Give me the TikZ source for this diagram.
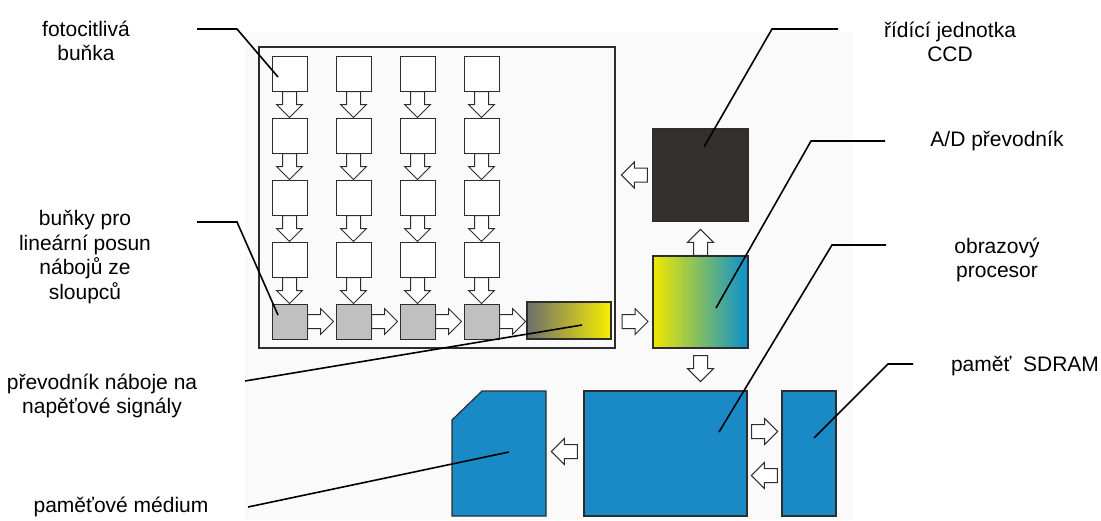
\documentclass[tikz,border=0pt]{standalone}
\usepackage{fontspec}
\setmainfont{Liberation Sans}
\usetikzlibrary{calc}

\definecolor{bgpaper}{RGB}{250,250,250}
\definecolor{boxline}{RGB}{45,45,45}
\definecolor{cellgray}{RGB}{192,192,192}
\definecolor{ccdblack}{RGB}{51,48,46}
\definecolor{memblue}{RGB}{26,138,198}
\definecolor{adcyellow}{RGB}{240,232,0}
\definecolor{adcgreen}{RGB}{96,184,150}
\definecolor{adcblue}{RGB}{10,144,208}
\definecolor{convgray}{RGB}{110,110,110}
\definecolor{convyellow}{RGB}{248,238,0}

\tikzset{
  cell/.style={draw=boxline, line width=1pt, fill=white, minimum size=35pt, inner sep=0pt},
  shiftcell/.style={cell, fill=cellgray},
  unit/.style={draw=boxline, line width=1.2pt, inner sep=0pt},
  memunit/.style={unit, fill=memblue},
  leader/.style={draw=black, line width=1.6pt},
  label/.style={align=center, inner sep=0pt, font=\fontsize{21}{24.5}\selectfont},
  pics/blockarrow/.style={code={
    \draw[draw=boxline, line width=1pt, fill=white]
      (-13,-7) -- (0,-7) -- (0,-13) -- (13,0) -- (0,13) -- (0,7) -- (-13,7) -- cycle;
  }},
}

\begin{document}
\begin{tikzpicture}[x=1pt, y=-1pt]
  \useasboundingbox (0,0) rectangle (1101,520);
  \fill[bgpaper] (245,32) rectangle (853,520);

  % CCD snimac
  \draw[boxline, line width=1.3pt] (259,47) rectangle (615,348);
  \foreach \c in {1,...,4}{
    \foreach \r in {1,...,4}{
      \node[cell] (c\c\r) at ({225.5+64*\c},{11.5+62*\r}) {};
      \pic[rotate=-90] at ($(c\c\r.south)+(0,13)$) {blockarrow};
    }
    \node[shiftcell] (s\c) at ({225.5+64*\c},321.5) {};
    \pic at ($(s\c.east)+(13,0)$) {blockarrow};
  }
  \node[unit, minimum width=84pt, minimum height=37pt,
        left color=convgray, right color=convyellow] (conv) at (569,320.5) {};

  % ridici jednotka a A/D prevodnik
  \node[unit, fill=ccdblack, minimum width=95pt, minimum height=92pt] (ccd) at (700.5,175) {};
  \node[unit, minimum width=95pt, minimum height=92pt,
        left color=adcyellow, middle color=adcgreen, right color=adcblue] (adc) at (700.5,302) {};
  \pic[rotate=180] at ($(ccd.west)+(-18,0)$) {blockarrow};
  \pic[rotate=90] at ($(adc.north)+(0,-13)$) {blockarrow};
  \pic at (635,321.5) {blockarrow};
  \pic[rotate=-90] at ($(adc.south)+(0,20)$) {blockarrow};

  % procesor, pamet, medium
  \node[memunit, minimum width=163pt, minimum height=125pt] (proc) at (665.5,453.5) {};
  \node[memunit, minimum width=54pt, minimum height=125pt] (sdram) at (809,453.5) {};
  \draw[memunit] (452,420) -- (482,391) -- (546,391) -- (546,516) -- (452,516) -- cycle;
  \coordinate (card) at (509,452);
  \pic[rotate=180] at ($(proc.west)+(-19,-2)$) {blockarrow};
  \pic at ($(proc.east)+(17,-22)$) {blockarrow};
  \pic[rotate=180] at ($(sdram.west)+(-17,22)$) {blockarrow};

  % popisky
  \node[label] (lfot) at (86,41) {fotocitlivá\\buňka};
  \node[label] (lposun) at (85,257) {buňky pro\\lineární posun\\nábojů ze\\sloupců};
  \node[label] (lconv) at (102,396) {převodník náboje na\\napěťové signály};
  \node[label] (lmed) at (121,507) {paměťové médium};
  \node[label] (lccd) at (950,42) {řídící jednotka\\CCD};
  \node[label] (ladc) at (997,141) {A/D převodník};
  \node[label] (lproc) at (997,260) {obrazový\\procesor};
  \node[label] (lsdram) at (1025,366) {paměť~~SDRAM};

  \coordinate (kfot) at (237,29);
  \coordinate (kposun) at (237,222);
  \coordinate (kccd) at (772,29);
  \coordinate (kadc) at (811,141);
  \coordinate (kproc) at (832,245);
  \coordinate (ksdram) at (888,364);

  \draw[leader] (197,29) -- (kfot) -- ($(c11)+(-11.5,3.5)$);
  \draw[leader] (197,222) -- (kposun) -- ($(s1)+(-11.5,-6.5)$);
  \draw[leader] (245,381) -- ($(conv)+(13,4.5)$);
  \draw[leader] (248,507) -- (card);
  \draw[leader] (838,29) -- (kccd) -- ($(ccd)+(3.5,-28)$);
  \draw[leader] (885,141) -- (kadc) -- ($(adc)+(15.5,6)$);
  \draw[leader] (886,245) -- (kproc) -- ($(proc)+(53.5,-21.5)$);
  \draw[leader] (913,364) -- (ksdram) -- ($(sdram)+(5,-15.5)$);
\end{tikzpicture}
\end{document}
